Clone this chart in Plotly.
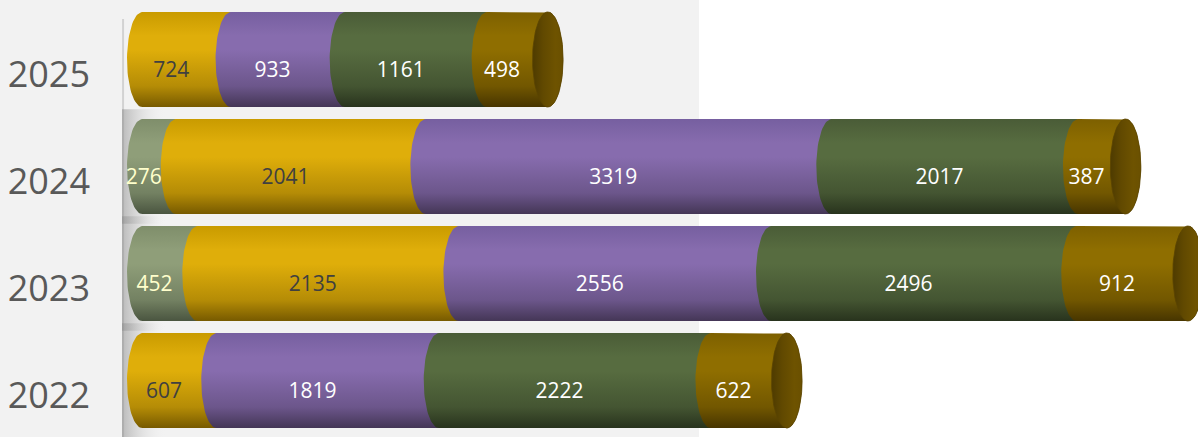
import numpy as np
import plotly.graph_objects as go

# ---------------- data ----------------
years = ["2022", "2023", "2024", "2025"]
sage = [0, 452, 276, 0]
gold = [607, 2135, 2041, 724]
purple = [1819, 2556, 3319, 933]
dkgreen = [2222, 2496, 2017, 1161]
brown = [622, 912, 387, 498]

series = [sage, gold, purple, dkgreen, brown]
# (bottom, mid, top) shades for cylinder look
palettes = [
    ("#4A5540", "#8F9E79", "#7F8E6B"),
    ("#775A00", "#DFAE0A", "#C99B00"),
    ("#443656", "#876CAE", "#765FA0"),
    ("#28331D", "#576C40", "#4A5C37"),
    ("#473500", "#8F6E00", "#7D6000"),
]
label_colors = ["#FFFFCC", "#404040", "#FFFFFF", "#FFFFFF", "#FFFFFF"]
FONT = "Open Sans, sans-serif"

# ---------------- geometry helpers ----------------
R = 125.0      # horizontal radius of the cylinder ellipse (data units)
H = 0.444      # half thickness of bar (category units)
LABEL_DY = 0.112
OVERLAP = 20.0  # hide anti-aliasing seams under the next segment
t = np.linspace(-np.pi / 2, np.pi / 2, 40)


def hex2rgb(h):
    h = h.lstrip("#")
    return tuple(int(h[i:i + 2], 16) for i in (0, 2, 4))


def mix(c1, c2, f):
    a, b = hex2rgb(c1), hex2rgb(c2)
    return "rgb(%d,%d,%d)" % tuple(round(a[i] + (b[i] - a[i]) * f) for i in range(3))


def vscale(p):
    bot, mid, top = p
    return [[0, bot], [0.22, mix(bot, mid, 0.6)], [0.6, mid], [0.75, mid], [1, top]]


fig = go.Figure()

# shadows on the left wall
for i, yr in enumerate(years[:-1]):
    ys = [i - H - 0.09, i - H - 0.09, i + H + 0.09, i + H + 0.09, i - H - 0.09]
    xs = [-41, 320, 320, -41, -41]
    fig.add_trace(go.Scatter(
        x=xs, y=ys, mode="lines", line=dict(width=0), fill="toself",
        fillgradient=dict(type="horizontal",
                          colorscale=[[0, "rgba(140,140,140,0.55)"], [1, "rgba(242,242,242,0)"]]),
        hoverinfo="skip", showlegend=False))

lab_x, lab_y, lab_t, lab_c = [], [], [], []
for i, yr in enumerate(years):
    vals = [s[i] for s in series]
    total = sum(vals)
    nz = [k for k, v in enumerate(vals) if v > 0]
    last = nz[-1]
    start = 0.0
    for k in nz:
        a, b = start, start + vals[k]
        # left boundary arc (bulging left)
        lx = a + R - R * np.cos(t)
        ly = i + H * np.sin(t)
        if k == last:
            rx = b + R + R * np.cos(t[::-1])
        else:
            rx = b + OVERLAP + R - R * np.cos(t[::-1])
        ry = i + H * np.sin(t[::-1])
        xs = np.concatenate([lx, rx, lx[:1]])
        ys = np.concatenate([ly, ry, ly[:1]])
        fig.add_trace(go.Scatter(
            x=xs, y=ys, mode="lines", line=dict(width=0), fill="toself",
            fillgradient=dict(type="vertical", colorscale=vscale(palettes[k])),
            hoverinfo="skip", showlegend=False))
        lab_x.append((a + b) / 2)
        lab_y.append(i - LABEL_DY)
        lab_t.append(str(vals[k]))
        lab_c.append(label_colors[k])
        start = b
    # end cap ellipse
    tt = np.linspace(0, 2 * np.pi, 80)
    cx = total + R + R * np.cos(tt)
    cy = i + H * np.sin(tt)
    fig.add_trace(go.Scatter(
        x=cx, y=cy, mode="lines", line=dict(width=0.8, color="#5A4400"), fill="toself",
        fillgradient=dict(type="horizontal",
                          colorscale=[[0, "#4E3B00"], [0.35, "#614900"], [0.75, "#6E5300"], [1, "#6A5000"]]),
        hoverinfo="skip", showlegend=False))

fig.add_trace(go.Scatter(
    x=lab_x, y=lab_y, mode="text", text=lab_t,
    textfont=dict(family=FONT, size=21, color=lab_c),
    hoverinfo="skip", showlegend=False))

W, HGT = 1198, 437
L = 122
px_per = 0.1223
xmin = -(127 - L) / px_per
xmax = xmin + (W - L) / px_per
ymin = -56.5 / 107
ymax = ymin + HGT / 107

fig.update_layout(
    width=W, height=HGT, autosize=False,
    margin=dict(l=L, r=0, t=0, b=0),
    paper_bgcolor="#F2F2F2", plot_bgcolor="rgba(0,0,0,0)",
    xaxis=dict(range=[xmin, xmax], visible=False, fixedrange=True),
    yaxis=dict(range=[ymin, ymax], tickvals=[i - 0.14 for i in range(len(years))],
               ticktext=years, showgrid=False, zeroline=False, showline=False,
               ticks="", ticklabelstandoff=31,
               tickfont=dict(family=FONT, size=36, color="#595959"), fixedrange=True),
    shapes=[
        dict(type="rect", xref="paper", yref="paper", x0=(699 - L) / (W - L), x1=1, y0=0, y1=1,
             fillcolor="white", line=dict(width=0), layer="below"),
        dict(type="line", xref="paper", yref="paper", x0=0.001, x1=0.001, y0=0, y1=(HGT - 19) / HGT,
             line=dict(color="#D2D2D2", width=2), layer="below"),
    ],
)

fig.write_html("out.html", config={"displayModeBar": False},
               post_script="document.body.style.margin='0';document.body.style.overflow='hidden';")
